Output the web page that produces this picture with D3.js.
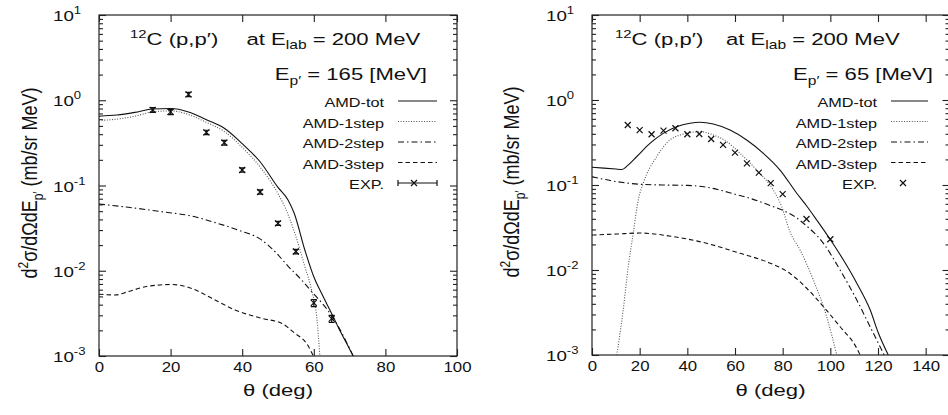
<!DOCTYPE html>
<html>
  <head>
    <meta charset="utf-8">
    <title>12C (p,p') at 200 MeV</title>
    <script src="https://cdn.jsdelivr.net/npm/d3@7"></script>
    <style>
      body { margin: 0; background: #fff; }
      svg { display: block; font-family: "Liberation Sans", Arial, Helvetica, sans-serif; }
      text { fill: #111; }
      .frame { fill: none; stroke: #222; stroke-width: 1.2; }
      .tick line { stroke: #222; stroke-width: 1.1; }
      .curve { fill: none; stroke: #111; stroke-width: 1.1; }
      .tot { }
      .step1 { stroke: #555; stroke-dasharray: 1 1.6; }
      .step2 { stroke-dasharray: 6 3 1.5 3; }
      .step3 { stroke-dasharray: 4.5 3; }
      .exp { fill: none; stroke: #111; stroke-width: 1.2; }
    </style>
  </head>

  <body>
    <svg id="chart" width="948" height="415"></svg>

    <script>
      // left panel: E_p' = 165 MeV
      const thTotL = [0, 5, 10, 15, 20, 25, 30, 35, 40, 45, 50, 52.8, 54.5, 57.5, 60, 62.2, 64, 65.4, 67, 69.2, 71];
      const totL = [0.65, 0.67, 0.72, 0.79, 0.80, 0.73, 0.59, 0.47, 0.31, 0.19, 0.095, 0.0676, 0.0475, 0.0175, 0.0085, 0.0054, 0.0038, 0.0029, 0.0021, 0.0014, 0.001];
      const thStep1L = [0, 5, 10, 15, 20, 25, 30, 35, 40, 45, 50, 52, 54.7, 57.5, 59.4, 60.8, 61.7];
      const step1L = [0.58, 0.60, 0.65, 0.73, 0.75, 0.68, 0.55, 0.43, 0.28, 0.165, 0.08, 0.055, 0.0275, 0.0112, 0.0059, 0.0029, 0.001];
      const thStep2L = [0, 8.2, 17.5, 26.8, 31.5, 38.9, 45.4, 49.2, 52.9, 56.6, 59.4, 63.1, 65.4, 68, 71];
      const step2L = [0.0607, 0.0555, 0.0493, 0.043, 0.0377, 0.030, 0.023, 0.0167, 0.0112, 0.0078, 0.0057, 0.0038, 0.0028, 0.0018, 0.001];
      const thStep3L = [0, 4.5, 8.2, 13.8, 20.3, 25.9, 31.5, 38, 45.4, 51, 54.7, 58, 59.9];
      const step3L = [0.0053, 0.0052, 0.0057, 0.0066, 0.0069, 0.0062, 0.00475, 0.00347, 0.00277, 0.00242, 0.00185, 0.0014, 0.001];
      const thExpL = [15, 20, 25, 30, 35, 40, 45, 50, 55, 60, 65];
      const expL = [0.77, 0.73, 1.17, 0.42, 0.318, 0.152, 0.084, 0.036, 0.0168, 0.0042, 0.00274];
      const errL = [0.05, 0.05, 0.07, 0.025, 0.02, 0.009, 0.005, 0.002, 0.001, 0.0004, 0.00026];

      // right panel: E_p' = 65 MeV
      const thTotR = [0, 5, 10, 12.5, 15, 18.7, 24.3, 29.9, 35.5, 41.1, 45.3, 50.9, 57.9, 64.9, 71.9, 78.9, 85.9, 90, 94.3, 99.9, 105.5, 111.1, 116.7, 120.2, 124.3];
      const totR = [0.162, 0.158, 0.154, 0.152, 0.17, 0.215, 0.309, 0.405, 0.485, 0.532, 0.547, 0.522, 0.443, 0.339, 0.236, 0.15, 0.08, 0.057, 0.0387, 0.023, 0.0131, 0.007, 0.0034, 0.0018, 0.001];
      const thStep1R = [10.4, 13.1, 15.2, 17.3, 19.4, 21.5, 27.1, 32.7, 39.7, 45.3, 50.9, 56.5, 62.1, 69.1, 76.1, 79.6, 83.1, 87.3, 92.9, 98.5, 102.7];
      const step1R = [0.001, 0.0034, 0.0109, 0.027, 0.0666, 0.105, 0.215, 0.339, 0.405, 0.424, 0.388, 0.324, 0.236, 0.15, 0.087, 0.0556, 0.028, 0.0172, 0.0076, 0.0028, 0.001];
      const thStep2R = [0, 10, 20, 30, 40, 50, 60, 66.3, 76.1, 80.3, 85.9, 88.7, 97.1, 104.1, 111.1, 116.7, 122.6];
      const step2R = [0.125, 0.11, 0.102, 0.1, 0.099, 0.092, 0.078, 0.0697, 0.0556, 0.05, 0.041, 0.0355, 0.0206, 0.01, 0.00444, 0.00215, 0.001];
      const thStep3R = [0, 10.4, 20.1, 34.1, 48.1, 62.1, 73.3, 83.1, 90.1, 97.1, 104.1, 111.1, 112.5];
      const step3R = [0.0258, 0.0265, 0.0272, 0.0247, 0.0206, 0.0157, 0.0125, 0.0091, 0.0061, 0.0037, 0.00215, 0.0012, 0.001];
      const thExpR = [15, 20, 25, 30, 35, 40, 45, 50, 55, 60, 65, 70, 75, 80, 90, 100];
      const expR = [0.508, 0.443, 0.395, 0.436, 0.465, 0.395, 0.398, 0.348, 0.296, 0.24, 0.18, 0.14, 0.105, 0.078, 0.0398, 0.023];

      // axes / labels
      const yDomain = [1e-3, 10];
      const decades = [1e-3, 1e-2, 1e-1, 1, 10];
      const exponents = ["-3", "-2", "-1", "0", "1"];
      const legendLabels = ["AMD-tot", "AMD-1step", "AMD-2step", "AMD-3step", "EXP."];
      const seriesClasses = ["tot", "step1", "step2", "step3"];

      // the scanned figure is stretched horizontally
      const SX = 1.25;

      const svg = d3.select("#chart");

      const panels = [
        {
          id: "L", left: 99, right: 457, top: 15, bottom: 356, xMax: 100,
          curves: [[thTotL, totL], [thStep1L, step1L], [thStep2L, step2L], [thStep3L, step3L]],
          exp: [thExpL, expL, errL], energy: "165",
          title: { c: 130, at: 246.5, ep: 427, epAnchor: "end" },
          legend: { textX: 384, lineX: [398, 437], y: 107 },
          yLabel: { x: 37, y: 183 }
        },
        {
          id: "R", left: 592, right: 949.5, top: 15, bottom: 355, xMax: 150,
          curves: [[thTotR, totR], [thStep1R, step1R], [thStep2R, step2R], [thStep3R, step3R]],
          exp: [thExpR, expR, null], energy: "65",
          title: { c: 615, at: 726, ep: 933, epAnchor: "end" },
          legend: { textX: 877, lineX: [891, 928], y: 107 },
          yLabel: { x: 519, y: 182 }
        }
      ];

      panels.forEach(drawPanel);

      function stext(parent, x, y, size, anchor, sx) {
        return parent.append("text")
          .attr("transform", "translate(" + x + "," + y + ") scale(" + (sx || SX) + ",1)")
          .attr("font-size", size)
          .attr("text-anchor", anchor || "start");
      }

      // pieces: [string, baseline offset, font size]
      function runs(t, pieces) {
        let cur = 0;
        pieces.forEach(([s, shift, size]) => {
          t.append("tspan")
            .attr("dy", shift - cur)
            .attr("font-size", size || null)
            .text(s);
          cur = shift;
        });
        return t;
      }

      function drawPanel(p) {
        const g = svg.append("g");

        const x = d3.scaleLinear().domain([0, p.xMax]).range([p.left, p.right]);
        const y = d3.scaleLog().domain(yDomain).range([p.bottom, p.top]);
        const xTicks = d3.range(0, p.xMax + 1, 20).filter(d => d < p.xMax || p.xMax == 100);
        const minor = y.ticks().filter(d => !decades.includes(d));

        // ticks, all pointing inward
        const axes = [
          [d3.axisBottom(x).tickValues(xTicks).tickSize(-7).tickPadding(6).tickFormat(d3.format("d")), 0, p.bottom],
          [d3.axisTop(x).tickValues(xTicks).tickSize(-7).tickFormat(""), 0, p.top],
          [d3.axisLeft(y).tickValues(decades).tickSize(-7).tickFormat(""), p.left, 0],
          [d3.axisLeft(y).tickValues(minor).tickSize(-4).tickFormat(""), p.left, 0],
          [d3.axisRight(y).tickValues(decades).tickSize(-7).tickFormat(""), p.right, 0],
          [d3.axisRight(y).tickValues(minor).tickSize(-4).tickFormat(""), p.right, 0]
        ];
        axes.forEach(([axis, tx, ty]) => {
          const a = g.append("g")
            .attr("transform", "translate(" + tx + "," + ty + ")")
            .call(axis);
          a.select(".domain").remove();
          a.attr("font-family", null).attr("font-size", 14);
          a.selectAll("text").attr("transform", "scale(1.2,1)").style("fill", "#111");
        });

        g.append("rect")
          .attr("class", "frame")
          .attr("x", p.left)
          .attr("y", p.top)
          .attr("width", p.right - p.left)
          .attr("height", p.bottom - p.top);

        // decade labels
        decades.forEach((d, i) => {
          runs(stext(g, p.left - 46, y(d) + 6, 15), [["10", 0], [exponents[i], -7, 10.5]]);
        });

        // clip
        const clipId = "clip" + p.id;
        g.append("clipPath").attr("id", clipId)
          .append("rect")
          .attr("x", p.left).attr("y", p.top)
          .attr("width", p.right - p.left).attr("height", p.bottom - p.top);

        const line = d3.line()
          .x(d => x(d[0]))
          .y(d => y(d[1]))
          .curve(d3.curveMonotoneX);

        const plot = g.append("g").attr("clip-path", "url(#" + clipId + ")");

        p.curves.forEach(([th, v], i) => {
          plot.append("path")
            .datum(d3.zip(th, v))
            .attr("class", "curve " + seriesClasses[i])
            .attr("d", line);
        });

        // experimental points
        const [thE, vE, errE] = p.exp;
        const pts = plot.selectAll(".pt")
          .data(d3.zip(thE, vE, errE || thE.map(() => 0)))
          .join("g")
            .attr("class", "pt")
            .attr("transform", d => "translate(" + x(d[0]) + "," + y(d[1]) + ")");
        pts.append("path")
          .attr("class", "exp")
          .attr("d", "M-3,-3L3,3M-3,3L3,-3");
        if (errE) {
          pts.append("path")
            .attr("class", "exp")
            .attr("d", d => {
              const hi = y(d[1] + d[2]) - y(d[1]);
              const lo = y(d[1] - d[2]) - y(d[1]);
              return "M0," + hi + "V" + lo + "M-3," + hi + "H3M-3," + lo + "H3";
            });
        }

        // titles
        runs(stext(g, p.title.c, 45, 17, "start", 1.3), [["12", -7, 11.5], ["C (p,p′)", 0]]);
        runs(stext(g, p.title.at, 45, 17, "start", 1.3), [["at E", 0], ["lab", 4, 12], [" = 200 MeV", 0]]);
        runs(stext(g, p.title.ep, 80, 17, p.title.epAnchor, 1.3), [["E", 0], ["p′", 5, 12], [" = " + p.energy + " [MeV]", 0]]);

        // legend
        legendLabels.forEach((lab, i) => {
          const ly = p.legend.y + i * 20.5;
          stext(g, p.legend.textX, ly, 13, "end").text(lab);
          const cy = ly - 6;
          const [x0, x1] = p.legend.lineX;
          if (i < 4) {
            g.append("line")
              .attr("class", "curve " + seriesClasses[i])
              .attr("x1", x0).attr("x2", x1)
              .attr("y1", cy).attr("y2", cy);
          } else {
            const mx = errE ? x0 + 16 : x0 + 12;
            if (errE) {
              g.append("path")
                .attr("class", "exp")
                .attr("d", "M" + x0 + "," + cy + "H" + x1 + "M" + x0 + "," + (cy - 3) + "V" + (cy + 3) + "M" + x1 + "," + (cy - 3) + "V" + (cy + 3));
            }
            g.append("path")
              .attr("class", "exp")
              .attr("transform", "translate(" + mx + "," + cy + ")")
              .attr("d", "M-3,-3L3,3M-3,3L3,-3");
          }
        });

        // axis titles
        runs(stext(g, (p.left + Math.min(p.right, 949)) / 2, 396, 17, "middle", 1.3), [["θ  (deg)", 0]]);

        const yl = g.append("text")
          .attr("transform", "translate(" + p.yLabel.x + "," + p.yLabel.y + ") scale(" + SX + ",1) rotate(-90)")
          .attr("font-size", 18)
          .attr("text-anchor", "middle");
        runs(yl, [["d", 0], ["2", -7, 12], ["σ/dΩdE", 0], ["p′", 5, 12], [" (mb/sr MeV)", 0]]);
      }
    </script>
  </body>
</html>
